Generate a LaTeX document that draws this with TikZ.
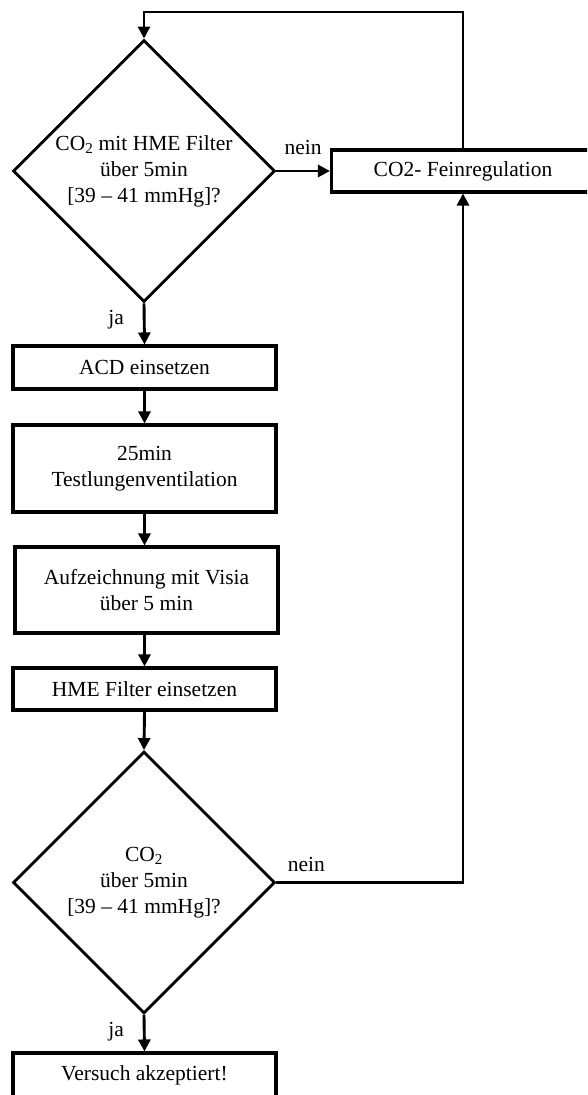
\documentclass[tikz,border=0pt]{standalone}
\usepackage{fontspec}
\setmainfont{Liberation Serif}
\usetikzlibrary{shapes.geometric,arrows.meta}
\begin{document}
\begin{tikzpicture}[x=1pt,y=-1pt,
  line width=2.9pt,
  every node/.style={font=\fontsize{21.5}{26}\selectfont, align=center},
  procbox/.style={draw, rectangle, line width=3.1pt, minimum width=263pt, inner sep=0pt},
  decision/.style={draw, diamond, aspect=1, line width=2.9pt,
    minimum width=262pt, minimum height=262pt, inner sep=-20pt},
  flow/.style={-{Triangle[length=12pt,width=12pt]}, line width=2.9pt},
  lbl/.style={inner sep=0pt}
]
\useasboundingbox (0,0) rectangle (587,1095);
\clip (0,0) rectangle (587,1095);

% decisions and process steps
\node[decision] (d1) at (144,171)
  {CO\textsubscript{2} mit HME Filter\\über 5min\\{[39 – 41 mmHg]?}};
\node[procbox, minimum height=42pt] (fb) at (463,171) {CO2- Feinregulation};
\node[procbox, minimum height=43pt] (acd) at (144.5,367.5) {ACD einsetzen};
\node[procbox, minimum height=87pt] (t25) at (144.5,468.5) {25min\\Testlungenventilation};
\node[procbox, minimum height=86pt] (auf) at (146.5,590) {Aufzeichnung mit Visia\\über 5 min};
\node[procbox, minimum height=42pt] (hme) at (144.5,689) {HME Filter einsetzen};
\node[decision] (d2) at (144,882.5)
  {CO\textsubscript{2}\\über 5min\\{[39 – 41 mmHg]?}};
\node[procbox, minimum height=45pt] (ok) at (144.5,1075.5) {Versuch akzeptiert!};

% loop back from the fine regulation to the first check
\coordinate (tl) at (144,12);
\draw[flow] (fb.north) |- (tl) -- (d1.north);

% main flow
\draw[flow] (d1.east) -- node[lbl, midway, yshift=24pt] {nein} (fb.west);
\draw[flow] (d1.south) -- node[lbl, pos=0.4, xshift=-28pt] {ja} (acd.north);
\draw[flow] (acd.south) -- (t25.north);
\draw[flow] (t25.south) -- (t25.south |- auf.north);
\draw[flow] (auf.south -| hme.south) -- (hme.north);
\draw[flow] (hme.south) -- (d2.north);
\draw[flow] (d2.east) -| node[lbl, pos=0.08, yshift=18pt] {nein} (fb.south);
\draw[flow] (d2.south) -- node[lbl, pos=0.45, xshift=-28pt] {ja} (ok.north);
\end{tikzpicture}
\end{document}
